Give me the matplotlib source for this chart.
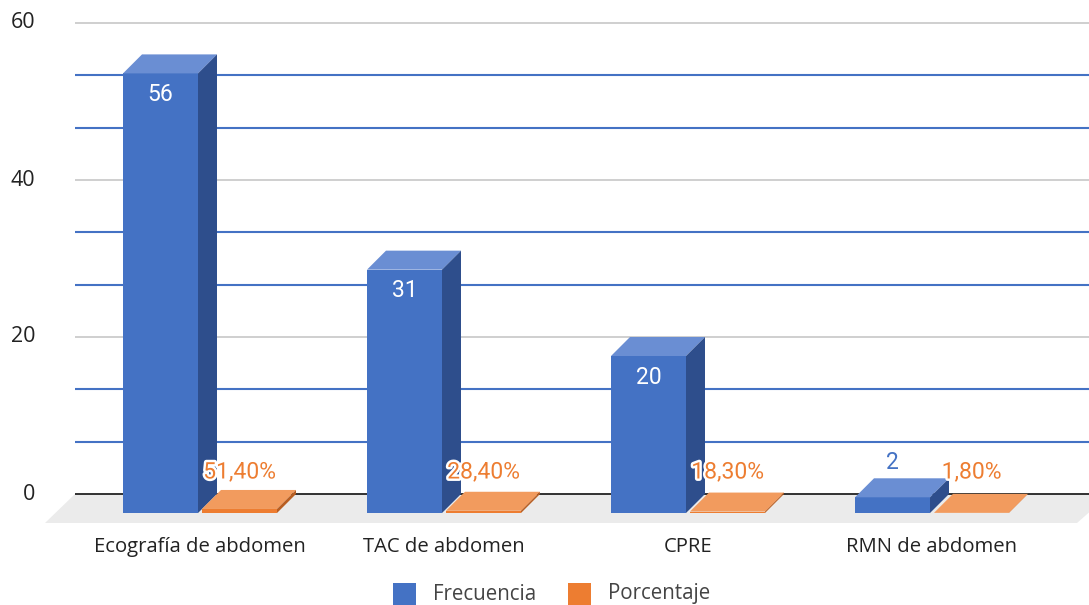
import matplotlib
matplotlib.use('Agg')
import matplotlib.pyplot as plt
from matplotlib.patches import Polygon, Rectangle
import matplotlib.patheffects as pe

# Data
categorias = ['Ecografía de abdomen', 'TAC de abdomen', 'CPRE', 'RMN de abdomen']
frecuencia = [56, 31, 20, 2]
porcentaje = [51.4, 28.4, 18.3, 1.8]
series = ['Frecuencia', 'Porcentaje']
yticks = [0, 20, 40, 60]

# Colours
azul = '#4472C4'
azul_top = '#6A8ED3'
azul_side = '#2E4E8C'
naranja = '#ED7D31'
naranja_top = '#F29B5E'
naranja_side = '#B85E22'

plt.rcParams['font.family'] = ['Open Sans', 'DejaVu Sans']

W, H = 1089, 605
PXX = 244.0   # pixels per category
PXY = 7.85    # pixels per unit
fig = plt.figure(figsize=(W / 100, H / 100), dpi=100)
ax = fig.add_axes([0, 0, 1, 1])
ax.set_xlim(-200 / PXX, (W - 200) / PXX)
ax.set_ylim(-(H - 494) / PXY, 494 / PXY)
ax.axis('off')


def px(x):
    return (x - 200) / PXX


ddx = 19 / PXX
ddy = 19 / PXY
w = 75 / PXX
gap = 4 / PXX

# floor
floor_b = -29 / PXY
ax.add_patch(Polygon([(px(45), floor_b), (px(1077), floor_b), (px(1110), 0), (px(75), 0)],
                     closed=True, facecolor='#EBEBEB', edgecolor='none', zorder=1))

# gridlines
for k in range(10):
    v = k * 20 / 3
    if k == 0:
        c, lw = '#222222', 1.3
    elif k % 3 == 0:
        c, lw = '#CCCCCC', 1.3
    else:
        c, lw = azul, 1.5
    ax.plot([px(75), px(W)], [v, v], color=c, lw=lw, zorder=2, solid_capstyle='butt')

for t in yticks:
    ax.text(px(35), t, str(t), ha='right', va='center', fontsize=15.5, color='#222222')


def bar3d(xl, h, front, top, side):
    ax.add_patch(Rectangle((xl, -ddy), w, h, facecolor=front, edgecolor='none', zorder=3))
    ax.add_patch(Polygon([(xl, h - ddy), (xl + w, h - ddy), (xl + w + ddx, h), (xl + ddx, h)],
                         closed=True, facecolor=top, edgecolor='none', zorder=3))
    ax.add_patch(Polygon([(xl + w, -ddy), (xl + w + ddx, 0), (xl + w + ddx, h), (xl + w, h - ddy)],
                         closed=True, facecolor=side, edgecolor='none', zorder=3))


for i, (cat, f, p) in enumerate(zip(categorias, frecuencia, porcentaje)):
    xb = i - w - gap / 2
    xo = i + gap / 2
    bar3d(xb, f, azul, azul_top, azul_side)
    bar3d(xo, p / 100, naranja, naranja_top, naranja_side)

    if f > 5:
        ax.text(xb + w / 2, f - ddy - 21 / PXY, str(f), ha='center', va='center',
                fontsize=16.5, color='white', family='Roboto', zorder=5)
    else:
        ax.text(xb + w / 2, f + 16 / PXY, str(f), ha='center', va='center',
                fontsize=16.5, color=azul, family='Roboto', zorder=5)

    lbl = f'{p:.2f}%'.replace('.', ',')
    ax.text(xo + w / 2, 22 / PXY, lbl, ha='center', va='center', fontsize=16.5,
            color=naranja, family='Roboto', zorder=5,
            path_effects=[pe.withStroke(linewidth=3.5, foreground='white')])

    ax.text(i, -53 / PXY, cat, ha='center', va='center', fontsize=14.6, color='#222222')

# legend
for (lx, tx), name, col in zip([(393, 433), (568, 608)], series, [azul, naranja]):
    fig.patches.append(Rectangle((lx / W, 1 - 606 / H), 23 / W, 23 / H, transform=fig.transFigure,
                                 facecolor=col, edgecolor='none'))
    fig.text(tx / W, 1 - 594 / H, name, ha='left', va='center', fontsize=14.8, color='#444444')

fig.savefig('out.png', dpi=100)
